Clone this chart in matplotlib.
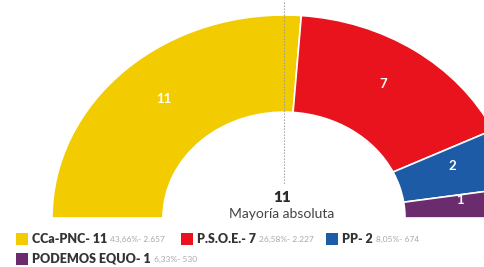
import numpy as np
import matplotlib.pyplot as plt
from matplotlib.patches import Wedge, Rectangle

parties = ['CCa-PNC', 'P.S.O.E.', 'PP', 'PODEMOS EQUO']
seats = [11, 7, 2, 1]
percents = ['43,66%', '26,58%', '8,05%', '6,33%']
votes = ['2.657', '2.227', '674', '530']
colors = ['#F2CB00', '#E8131C', '#1D5BA6', '#6A2C6C']
majority = 11

plt.rcParams['font.family'] = ['Lato', 'DejaVu Sans']

W, H = 484, 267
cx, cy = 284, 218      # centre of the hemicycle in pixels
rx, ry = 232, 203      # outer radii (image is squashed vertically)
inner = 121 / 232

fig = plt.figure(figsize=(W / 100, H / 100), dpi=100)
ax = fig.add_axes([0, 0, 1, 1])
ax.set_xlim((0 - cx) / rx, (W - cx) / rx)
ax.set_ylim((cy - H) / ry, cy / ry)
ax.axis('off')


def px(x, y):
    return (x - cx) / rx, (cy - y) / ry


total = sum(seats)
start = 180.0
for s, c in zip(seats, colors):
    span = 180.0 * s / total
    ax.add_patch(Wedge((0, 0), 1, start - span, start, width=1 - inner,
                       facecolor=c, edgecolor='white', linewidth=1.2))
    mid = np.radians(start - span / 2)
    r = 0.76
    ax.text(r * np.cos(mid), r * np.sin(mid) + 0.03, str(s), color='white',
            fontsize=9.5, fontweight='bold', ha='center', va='center')
    start -= span

# majority line
x0, y0 = px(284, 2)
x1, y1 = px(284, 184)
ax.plot([x0, x1], [y0, y1], color='#9a9a9a', linestyle=(0, (1.2, 1.5)),
        linewidth=0.8)

tx, ty = px(282, 197)
ax.text(tx, ty, str(majority), fontsize=11, fontweight='heavy',
        color='#2b2b2b', ha='center', va='center')
tx, ty = px(282, 214)
ax.text(tx, ty, 'Mayoría absoluta', fontsize=10, color='#444444',
        ha='center', va='center')

# legend
slots = [(16, 239), (181, 239), (326, 239), (16, 259)]
fig.canvas.draw()
renderer = fig.canvas.get_renderer()
for (lx, ly), p, s, pc, v, c in zip(slots, parties, seats, percents, votes, colors):
    fig.add_artist(Rectangle((lx / W, 1 - (ly + 6) / H), 12 / W, 12 / H,
                             transform=fig.transFigure, facecolor=c,
                             edgecolor='none'))
    t = fig.text((lx + 16) / W, 1 - ly / H, f'{p}- {s}', fontsize=9,
                 fontweight='heavy', color='#333333', va='center', ha='left')
    bb = t.get_window_extent(renderer)
    fig.text((bb.x1 + 3) / W, 1 - ly / H, f'{pc}- {v}', fontsize=6,
             color='#a8a8a8', va='center', ha='left')

fig.savefig('out.png', dpi=100)
